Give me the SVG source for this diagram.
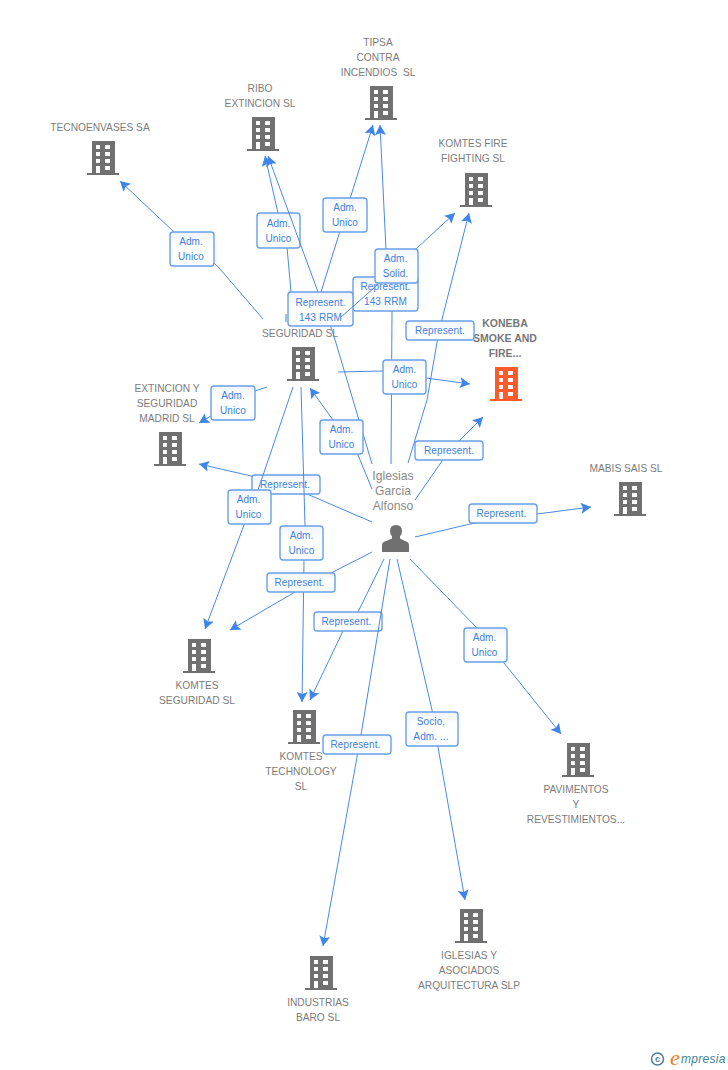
<svg xmlns="http://www.w3.org/2000/svg" width="728" height="1070" viewBox="0 0 728 1070">
<style>
text{font-family:"Liberation Sans",Arial,sans-serif}
.n{font-size:10.200px;fill:#7c7c7c;text-anchor:middle;white-space:pre}
.b{font-size:10.500px;font-weight:bold;fill:#777;text-anchor:middle}
.p{font-size:12.200px;fill:#8a8a8a;text-anchor:middle}
.l{font-size:10px;fill:#3f80e0;text-anchor:middle;letter-spacing:.1px}
.c{fill:none;stroke:#4a88e6;stroke-width:1;marker-end:url(#a)}
.x{fill:url(#g);stroke:#6a9fea;stroke-width:1.400}
</style>
<defs>
<linearGradient id="g" x1="0" y1="0" x2="0" y2="1"><stop offset="0" stop-color="#f0f4fb"/><stop offset=".4" stop-color="#fff"/><stop offset="1" stop-color="#fafcff"/></linearGradient>
<marker id="a" markerUnits="userSpaceOnUse" markerWidth="14" markerHeight="14" refX="10" refY="5.500" orient="auto"><path d="M0,0L10,5.500L0,11L2,5.500Z" fill="#3d85e8"/></marker>
<symbol id="bld" overflow="visible"><path fill="currentColor" fill-rule="evenodd" d="M-11,0H12V32H16V34H-16V32H-11ZM-7,4V8H-3V4ZM2,4V8H7V4ZM-7,11V15H-3V11ZM2,11V15H7V11ZM-7,18V22H-3V18ZM2,18V22H7V18ZM-7,25V32H-3V25ZM2,25V29H7V25Z"/></symbol>
</defs>
<g id="node-tipsa" color="#707070"><use href="#bld" x="381" y="86"/><text class="n" x="378" y="46">TIPSA</text><text class="n" x="378" y="61">CONTRA</text><text class="n" x="378" y="76">INCENDIOS  SL</text></g>
<g id="node-ribo" color="#707070"><use href="#bld" x="263" y="117"/><text class="n" x="260" y="92">RIBO</text><text class="n" x="260" y="107">EXTINCION SL</text></g>
<g id="node-tecnoenvases" color="#707070"><use href="#bld" x="103" y="141"/><text class="n" x="100" y="131">TECNOENVASES SA</text></g>
<g id="node-komtes-fire" color="#707070"><use href="#bld" x="476" y="173"/><text class="n" x="473" y="147">KOMTES FIRE</text><text class="n" x="473" y="162">FIGHTING SL</text></g>
<g id="node-seguridad" color="#707070"><use href="#bld" x="303" y="347"/><text class="n" x="286" y="322">I</text><text class="n" x="300" y="337">SEGURIDAD SL</text></g>
<g id="node-koneba" color="#ff5a2c"><use href="#bld" x="506" y="367"/><text class="b" x="505" y="327">KONEBA</text><text class="b" x="505" y="342">SMOKE AND</text><text class="b" x="505" y="357">FIRE...</text></g>
<g id="node-extincion" color="#707070"><use href="#bld" x="170" y="432"/><text class="n" x="167" y="392">EXTINCION Y</text><text class="n" x="167" y="407">SEGURIDAD</text><text class="n" x="167" y="422">MADRID SL</text></g>
<g id="node-mabis" color="#707070"><use href="#bld" x="630" y="482"/><text class="n" x="626" y="472">MABIS SAIS SL</text></g>
<g id="node-komtes-seguridad" color="#707070"><use href="#bld" x="199" y="639"/><text class="n" x="197" y="689">KOMTES</text><text class="n" x="197" y="704">SEGURIDAD SL</text></g>
<g id="node-komtes-technology" color="#707070"><use href="#bld" x="304" y="710"/><text class="n" x="301" y="760">KOMTES</text><text class="n" x="301" y="775">TECHNOLOGY</text><text class="n" x="301" y="790">SL</text></g>
<g id="node-pavimentos" color="#707070"><use href="#bld" x="578" y="743"/><text class="n" x="576" y="793">PAVIMENTOS</text><text class="n" x="576" y="808">Y</text><text class="n" x="576" y="823">REVESTIMIENTOS...</text></g>
<g id="node-iglesias-asociados" color="#707070"><use href="#bld" x="471" y="909"/><text class="n" x="469" y="959">IGLESIAS Y</text><text class="n" x="469" y="974">ASOCIADOS</text><text class="n" x="469" y="989">ARQUITECTURA SLP</text></g>
<g id="node-industrias" color="#707070"><use href="#bld" x="321" y="956"/><text class="n" x="318" y="1006">INDUSTRIAS</text><text class="n" x="318" y="1021">BARO SL</text></g>
<g id="node-person"><text class="p" x="393" y="480">Iglesias</text><text class="p" x="393" y="495">Garcia</text><text class="p" x="393" y="510">Alfonso</text><path fill="#707070" d="M382,552V545Q382,542 386,541L392,538.500V536.500Q390,534 390,531Q390,525 396,525Q402,525 402,531Q402,534 400,536.500V538.500L405,541Q409,542 409,545V552Z"/></g>
<g id="connectors">
<polyline class="c" points="391,464 392,311 386,250 380,125"/>
<rect class="x" x="353" y="277" width="65" height="34" rx="3"/><text class="l" x="385.500" y="290">Represent.</text><text class="l" x="385.500" y="305">143 RRM</text>
<polyline class="c" points="263,319 220,269 214,263 192,249 120,181"/>
<polyline class="c" points="291,292 287,247 278,213 265,156"/>
<rect class="x" x="257" y="213" width="43" height="35" rx="3"/><text class="l" x="278.500" y="227">Adm.</text><text class="l" x="278.500" y="242">Unico</text>
<polyline class="c" points="372,464 353,400 333,333 318,292 268,156"/>
<polyline class="c" points="321,292 345,215 373,125"/>
<rect class="x" x="323" y="198" width="44" height="34" rx="3"/><text class="l" x="345" y="211">Adm.</text><text class="l" x="345" y="226">Unico</text>
<rect class="x" x="288" y="292" width="65" height="34" rx="3"/><text class="l" x="320.500" y="306">Represent.</text><text class="l" x="320.500" y="321">143 RRM</text>
<polyline class="c" points="408,463 427,400 439,331 469,213"/>
<rect class="x" x="406" y="321" width="68" height="19" rx="3"/><text class="l" x="440" y="334">Represent.</text>
<polyline class="c" points="338,372 382,371 426,378 470,384"/>
<rect class="x" x="383" y="360" width="43" height="34" rx="3"/><text class="l" x="404.500" y="373">Adm.</text><text class="l" x="404.500" y="388">Unico</text>
<polyline class="c" points="415,500 449,451 483,417"/>
<rect class="x" x="415" y="441" width="68" height="19" rx="3"/><text class="l" x="449" y="454">Represent.</text>
<polyline class="c" points="372,489 358,455 341,437 333,420 310,388"/>
<rect class="x" x="320" y="420" width="43" height="34" rx="3"/><text class="l" x="341.500" y="433">Adm.</text><text class="l" x="341.500" y="448">Unico</text>
<polyline class="c" points="267,387 255,391 233,403 199,423"/>
<rect class="x" x="211" y="386" width="44" height="34" rx="3"/><text class="l" x="233" y="399">Adm.</text><text class="l" x="233" y="414">Unico</text>
<polyline class="c" points="372,522 307,494 286,484 199,464"/>
<rect class="x" x="252" y="475" width="68" height="19" rx="3"/><text class="l" x="285" y="488">Represent.</text>
<polyline class="c" points="293,387 258,490 244,525 205,629"/>
<rect class="x" x="228" y="490" width="43" height="34" rx="3"/><text class="l" x="248.500" y="503">Adm.</text><text class="l" x="248.500" y="518">Unico</text>
<polyline class="c" points="301,387 305,525 304,560 302,702"/>
<rect class="x" x="280" y="526" width="43" height="34" rx="3"/><text class="l" x="301.500" y="539">Adm.</text><text class="l" x="301.500" y="554">Unico</text>
<polyline class="c" points="372,552 331,573 295,592 230,630"/>
<rect class="x" x="267" y="573" width="68" height="19" rx="3"/><text class="l" x="299.500" y="586">Represent.</text>
<polyline class="c" points="384,559 358,612 343,631 310,700"/>
<rect class="x" x="314" y="612" width="68" height="19" rx="3"/><text class="l" x="346.500" y="625">Represent.</text>
<polyline class="c" points="390,559 361,735 323,946"/>
<rect class="x" x="323" y="735" width="68" height="19" rx="3"/><text class="l" x="355.500" y="748">Represent.</text>
<polyline class="c" points="397,559 432,710 438,747 465,900"/>
<rect class="x" x="406" y="712" width="52" height="34" rx="3"/><text class="l" x="431" y="725">Socio,</text><text class="l" x="431" y="740">Adm. ...</text>
<polyline class="c" points="410,559 477,628 504,663 561,734"/>
<rect class="x" x="464" y="628" width="43" height="34" rx="3"/><text class="l" x="484.500" y="641">Adm.</text><text class="l" x="484.500" y="656">Unico</text>
<polyline class="c" points="415,537 470,524 537,514 591,507"/>
<rect class="x" x="469" y="504" width="68" height="19" rx="3"/><text class="l" x="501.500" y="517">Represent.</text>
<rect class="x" x="170" y="232" width="44" height="34" rx="3"/><text class="l" x="191" y="245">Adm.</text><text class="l" x="191" y="260">Unico</text>
<polyline class="c" points="340,318 375,287 417,248 455,213"/>
<rect class="x" x="375" y="249" width="43" height="34" rx="3"/><text class="l" x="395.500" y="262">Adm.</text><text class="l" x="395.500" y="277">Solid.</text>
</g>
<g id="logo"><circle cx="657.500" cy="1059" r="6" fill="none" stroke="#4a7f96" stroke-width="1.500"/><text x="657.500" y="1062" font-size="9" fill="#4a7f96" text-anchor="middle" font-weight="bold">c</text><text x="670" y="1065" font-size="22" fill="#f08020" font-style="italic" style="font-family:'Liberation Serif',serif">e</text><text x="681" y="1063" font-size="12" fill="#3f7f98" font-style="italic" letter-spacing=".3">mpresia</text></g>
</svg>
